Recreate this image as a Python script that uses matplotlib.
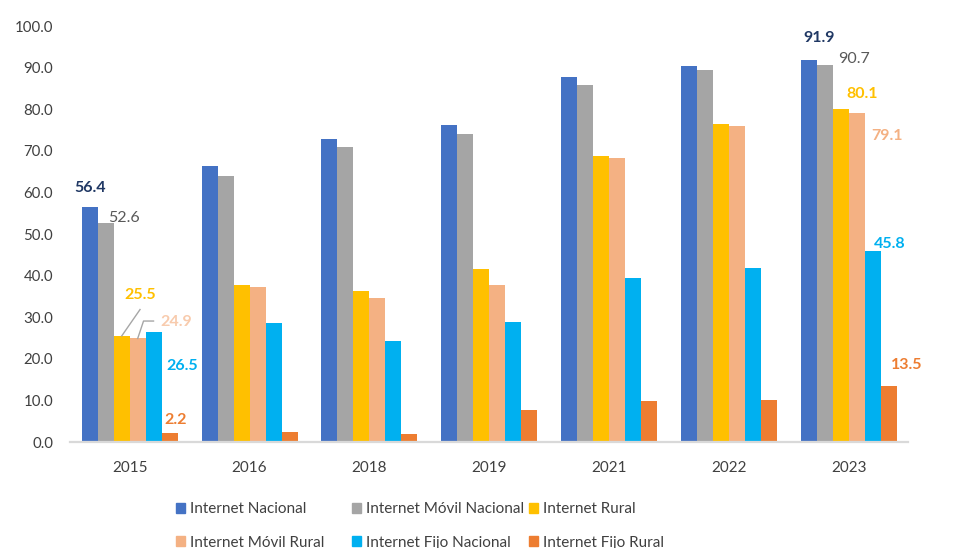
import numpy as np
import matplotlib
matplotlib.use("Agg")
import matplotlib.pyplot as plt
from matplotlib.patches import Patch
from matplotlib.ticker import FuncFormatter

plt.rcParams['font.family'] = ['Lato', 'DejaVu Sans']

# Años y series (% de hogares / personas con acceso)
anios = ["2015", "2016", "2018", "2019", "2021", "2022", "2023"]
internet_nacional = [56.4, 66.3, 72.8, 76.2, 87.7, 90.4, 91.9]
movil_nacional = [52.6, 64.0, 71.0, 74.0, 85.8, 89.4, 90.7]
internet_rural = [25.5, 37.7, 36.2, 41.5, 68.8, 76.5, 80.1]
movil_rural = [24.9, 37.2, 34.7, 37.7, 68.3, 76.0, 79.1]
fijo_nacional = [26.5, 28.5, 24.3, 28.9, 39.4, 41.8, 45.8]
fijo_rural = [2.2, 2.5, 2.0, 7.8, 9.8, 10.1, 13.5]

series = [internet_nacional, movil_nacional, internet_rural,
          movil_rural, fijo_nacional, fijo_rural]
nombres = ["Internet Nacional", "Internet Móvil Nacional", "Internet Rural",
           "Internet Móvil Rural", "Internet Fijo Nacional", "Internet Fijo Rural"]
colores = ["#4472c4", "#a5a5a5", "#ffc000", "#f4b183", "#00b0f0", "#ed7d31"]

fig = plt.figure(figsize=(9.67, 5.48), dpi=100)
ax = fig.add_axes([0.0722, 0.1934, 0.8673, 0.7591])

x = np.arange(len(anios))
ancho = 0.1335
for k, (vals, c) in enumerate(zip(series, colores)):
    ax.bar(x + (k - 2.5) * ancho, vals, ancho, color=c, label=nombres[k])

ax.set_xlim(-0.5, len(anios) - 0.5)
ax.set_ylim(0, 100)
ax.set_yticks(np.arange(0, 101, 10))
ax.yaxis.set_major_formatter(FuncFormatter(lambda v, p: f"{v:.1f}"))
ax.set_xticks(x)
ax.set_xticklabels(anios)
ax.tick_params(axis='y', length=0, pad=12, labelsize=10.8, labelcolor='#404040')
ax.tick_params(axis='x', length=0, pad=13.5, labelsize=11, labelcolor='#404040')
for s in ['left', 'right', 'top']:
    ax.spines[s].set_visible(False)
ax.spines['bottom'].set_color('#d9d9d9')
ax.spines['bottom'].set_linewidth(1.6)

# etiquetas de datos (primer y ultimo año): serie, indice, desplazamiento px, color, negrita
etiquetas = [
    (0, 0, (0, 19), "#203864", True),
    (1, 0, (18, 5.5), "#595959", False),
    (2, 0, (18.3, 41), "#ffc000", True),
    (3, 0, (38.5, 16.7), "#f8cbad", True),
    (4, 0, (28.5, -34), "#00b0f0", True),
    (5, 0, (6.3, 12.8), "#ed7d31", True),
    (0, 6, (10.3, 21.4), "#203864", True),
    (1, 6, (29.3, 5.4), "#595959", False),
    (2, 6, (22, 14.8), "#ffc000", True),
    (3, 6, (30.8, -22.7), "#f4b183", True),
    (4, 6, (17.3, 7.2), "#00b0f0", True),
    (5, 6, (18.3, 20.8), "#ed7d31", True),
]
for k, i, off, c, negrita in etiquetas:
    v = series[k][i]
    ax.annotate(f"{v:.1f}", xy=(x[i] + (k - 2.5) * ancho, v), xytext=off,
                textcoords='offset pixels', ha='center', va='center',
                fontsize=11.5, color=c, fontweight='bold' if negrita else 'normal')

# lineas guia de 25.5 y 24.9
def guia(k, i, puntos):
    v = series[k][i]
    base = ax.transData.transform((x[i] + (k - 2.5) * ancho, v))
    pts = ax.transData.inverted().transform(base + np.array(puntos))
    ax.plot(pts[:, 0], pts[:, 1], color='#a6a6a6', lw=1, clip_on=False)

guia(2, 0, [(0, 0), (18.3, 26.4)])
guia(3, 0, [(0, 0), (5.8, 17.4), (15.8, 17.4)])

# leyenda en tres columnas de ancho fijo
columnas = [(0, 3), (1, 4), (2, 5)]
posx = [176, 352, 529]
for (a, b), px in zip(columnas, posx):
    handles = [Patch(color=colores[a]), Patch(color=colores[b])]
    leg = fig.legend(handles, [nombres[a], nombres[b]], loc='center left',
                     bbox_to_anchor=(px / 967, 1 - 526 / 548), frameon=False,
                     fontsize=11, handlelength=0.6, handleheight=0.6,
                     handletextpad=0.3, labelspacing=1.25, borderpad=0,
                     borderaxespad=0, labelcolor='#404040')

fig.savefig("out.png", dpi=100)
